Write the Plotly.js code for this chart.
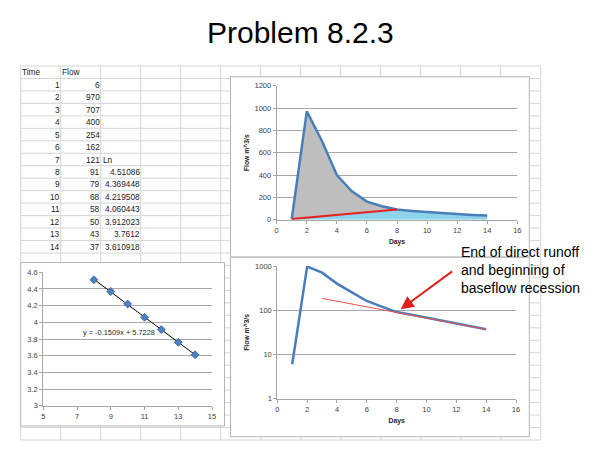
<!DOCTYPE html>
<html>
<head>
<meta charset="utf-8">
<script src="https://cdn.plot.ly/plotly-3.0.1.min.js"></script>
<style>
  html, body { margin: 0; padding: 0; background: #ffffff; }
  #chart { width: 600px; height: 450px; }
</style>
</head>
<body>
<div id="chart"></div>
<script>
// hydrograph data (table on the left of the slide)
const days = [1, 2, 3, 4, 5, 6, 7, 8, 9, 10, 11, 12, 13, 14];
const flows = [6, 970, 707, 400, 254, 162, 121, 91, 79, 68, 58, 50, 43, 37];
// ln of the recession flows, days 8..14
const lnDays = [8, 9, 10, 11, 12, 13, 14];
const lnFlows = [4.51086, 4.369448, 4.219508, 4.060443, 3.912023, 3.7612, 3.610918];

// straight-line baseflow separation (red line on the top chart)
const sepDays = [1, 8];
const sepFlows = [6, 91];

// fitted trend lines, end points
const trendLnDays = [8, 14];
const trendLnValues = [4.5156, 3.6102];
const trendLogDays = [3, 14];
const trendLogFlows = [185, 37];

const logTicks = [1, 10, 100, 1000];
const logTickText = ['1', '10', '100', '1000'];

// pixel -> paper helpers (page is 600 x 450, no margins)
const W = 600, H = 450;
const px = x => x / W;
const py = y => 1 - y / H;

const FONT = 'Liberation Sans, Arial, sans-serif';
const tickFont = { family: FONT, size: 7.5, color: '#404040' };
const titleFont = { family: FONT, size: 6.8, color: '#262626' };
const axisGrey = '#A6A6A6';
const blue = '#4A7EBB';

// direct runoff area = hydrograph above the separation line (closed polygon)
const nDirect = days.indexOf(sepDays[1]) + 1;
const directX = days.slice(0, nDirect).concat([sepDays[0]]);
const directY = flows.slice(0, nDirect).concat([sepFlows[0]]);
// baseflow area = below the separation line, then below the recession
const baseX = [sepDays[0]].concat(days.slice(nDirect - 1));
const baseY = [sepFlows[0]].concat(flows.slice(nDirect - 1));

const traces = [
  { x: baseX, y: baseY, type: 'scatter', mode: 'lines', fill: 'tozeroy',
    fillcolor: '#8FD3EA', line: { width: 0 }, xaxis: 'x', yaxis: 'y', hoverinfo: 'skip' },
  { x: directX, y: directY, type: 'scatter', mode: 'lines', fill: 'toself',
    fillcolor: '#BEBEBE', line: { width: 0 }, xaxis: 'x', yaxis: 'y', hoverinfo: 'skip' },
  { x: days, y: flows, type: 'scatter', mode: 'lines',
    line: { color: blue, width: 2.5 }, xaxis: 'x', yaxis: 'y' },
  { x: sepDays, y: sepFlows, type: 'scatter', mode: 'lines',
    line: { color: '#E8201C', width: 2 }, xaxis: 'x', yaxis: 'y' },

  // semi-log chart
  { x: days, y: flows, type: 'scatter', mode: 'lines',
    line: { color: blue, width: 2.5 }, xaxis: 'x2', yaxis: 'y2' },
  { x: trendLogDays, y: trendLogFlows, type: 'scatter', mode: 'lines',
    line: { color: '#E8504C', width: 1 }, xaxis: 'x2', yaxis: 'y2' },

  // ln(Q) regression chart
  { x: trendLnDays, y: trendLnValues, type: 'scatter', mode: 'lines',
    line: { color: '#000000', width: 1 }, xaxis: 'x3', yaxis: 'y3' },
  { x: lnDays, y: lnFlows, type: 'scatter', mode: 'markers',
    marker: { symbol: 'diamond', size: 6, color: '#4F81BD', line: { color: '#3A6AA8', width: 1 } },
    xaxis: 'x3', yaxis: 'y3' }
];

function xAxis(domain, range, anchor, title) {
  return {
    domain: domain, range: range, anchor: anchor, dtick: 2, tick0: range[0],
    showgrid: false, zeroline: false, showline: true, linecolor: axisGrey, linewidth: 1,
    ticks: 'outside', ticklen: 3, tickcolor: axisGrey, tickfont: tickFont,
    title: title ? { text: '<b>' + title + '</b>', font: titleFont, standoff: 5 } : { text: '' },
    fixedrange: true
  };
}
function yAxis(domain, range, anchor, extra, title) {
  return Object.assign({
    domain: domain, range: range, anchor: anchor,
    showgrid: true, gridcolor: axisGrey, gridwidth: 1, zeroline: false,
    showline: true, linecolor: axisGrey, linewidth: 1,
    ticks: 'outside', ticklen: 3, tickcolor: axisGrey, tickfont: tickFont,
    title: title ? { text: '<b>' + title + '</b>', font: titleFont, standoff: 4 } : { text: '' },
    fixedrange: true
  }, extra);
}

// spreadsheet grid behind everything
const shapes = [];
const gridLeft = 20.7, colW = 40, nCols = 13;
const gridTop = 66, rowH = 12.467, nRows = 30;
for (let c = 0; c <= nCols; c++) {
  shapes.push({ type: 'line', xref: 'paper', yref: 'paper', layer: 'below',
    x0: px(gridLeft + c * colW), x1: px(gridLeft + c * colW),
    y0: py(gridTop), y1: py(gridTop + nRows * rowH), line: { color: '#D6D6D6', width: 1 } });
}
for (let r = 0; r <= nRows; r++) {
  shapes.push({ type: 'line', xref: 'paper', yref: 'paper', layer: 'below',
    x0: px(gridLeft), x1: px(gridLeft + nCols * colW),
    y0: py(gridTop + r * rowH), y1: py(gridTop + r * rowH), line: { color: '#D6D6D6', width: 1 } });
}
// chart panels
[[230.5, 76.7, 529.3, 257], [230.5, 257.3, 529.3, 436.7], [20.7, 262.5, 224.5, 426]].forEach(b => {
  shapes.push({ type: 'rect', xref: 'paper', yref: 'paper', layer: 'below',
    x0: px(b[0]), x1: px(b[2]), y0: py(b[3]), y1: py(b[1]),
    fillcolor: '#ffffff', line: { color: '#B4B4B4', width: 1 } });
});

// table text
const cellFont = { family: FONT, size: 8.3, color: '#1a1a1a' };
const rowY = r => py(gridTop + rowH * (r + 0.5));
const annotations = [];
function cell(x, r, text, anchor) {
  annotations.push({ xref: 'paper', yref: 'paper', x: px(x), y: rowY(r), text: text,
    xanchor: anchor, yanchor: 'middle', showarrow: false, font: cellFont, borderpad: 0 });
}
cell(21, 0, 'Time', 'left');
cell(61, 0, 'Flow', 'left');
days.forEach((d, i) => {
  cell(60.5, i + 1, String(d), 'right');
  cell(100.5, i + 1, String(flows[i]), 'right');
});
cell(101.5, days.indexOf(lnDays[0]), 'Ln', 'left');
lnDays.forEach((d, i) => {
  cell(140.5, days.indexOf(d) + 1, String(lnFlows[i]), 'right');
});

annotations.push(
  { xref: 'paper', yref: 'paper', x: 0.5, y: py(32), text: 'Problem 8.2.3', showarrow: false,
    xanchor: 'center', yanchor: 'middle', font: { family: FONT, size: 30, color: '#000000' } },
  { xref: 'paper', yref: 'paper', x: px(119), y: py(332.7), text: 'y = -0.1509x + 5.7228', showarrow: false,
    xanchor: 'center', yanchor: 'middle', font: { family: FONT, size: 7.4, color: '#262626' } },
  { xref: 'paper', yref: 'paper', x: px(400.7), y: py(309.3), text: '', showarrow: true,
    ax: 53, ay: -39, arrowcolor: '#E0201E', arrowwidth: 2, arrowhead: 2, arrowsize: 1.3 },
  { xref: 'paper', yref: 'paper', x: px(458.5), y: py(270), showarrow: false,
    text: 'End of direct runoff<br>and beginning of<br>baseflow recession',
    xanchor: 'left', yanchor: 'middle', align: 'left',
    font: { family: FONT, size: 14, color: '#000000' } }
);

const layout = {
  width: W, height: H,
  margin: { l: 0, r: 0, t: 0, b: 0 },
  paper_bgcolor: '#ffffff',
  plot_bgcolor: 'rgba(0,0,0,0)',
  showlegend: false,
  font: { family: FONT },
  xaxis: xAxis([px(276.7), px(517.3)], [0, 16], 'y', 'Days'),
  yaxis: yAxis([py(219.7), py(85.7)], [0, 1200], 'x', { dtick: 200 }, 'Flow m^3/s'),
  xaxis2: xAxis([px(277.3), px(516)], [0, 16], 'y2', 'Days'),
  yaxis2: yAxis([py(398.7), py(266)], [0, 3], 'x2',
    { type: 'log', tickvals: logTicks, ticktext: logTickText }, 'Flow m^3/s'),
  xaxis3: xAxis([px(43.3), px(212)], [5, 15], 'y3', null),
  yaxis3: yAxis([py(405.7), py(272.3)], [3, 4.6], 'x3', { dtick: 0.2, tick0: 3 }, null),
  shapes: shapes,
  annotations: annotations
};

Plotly.newPlot('chart', traces, layout, { displayModeBar: false, staticPlot: true });
</script>
</body>
</html>
